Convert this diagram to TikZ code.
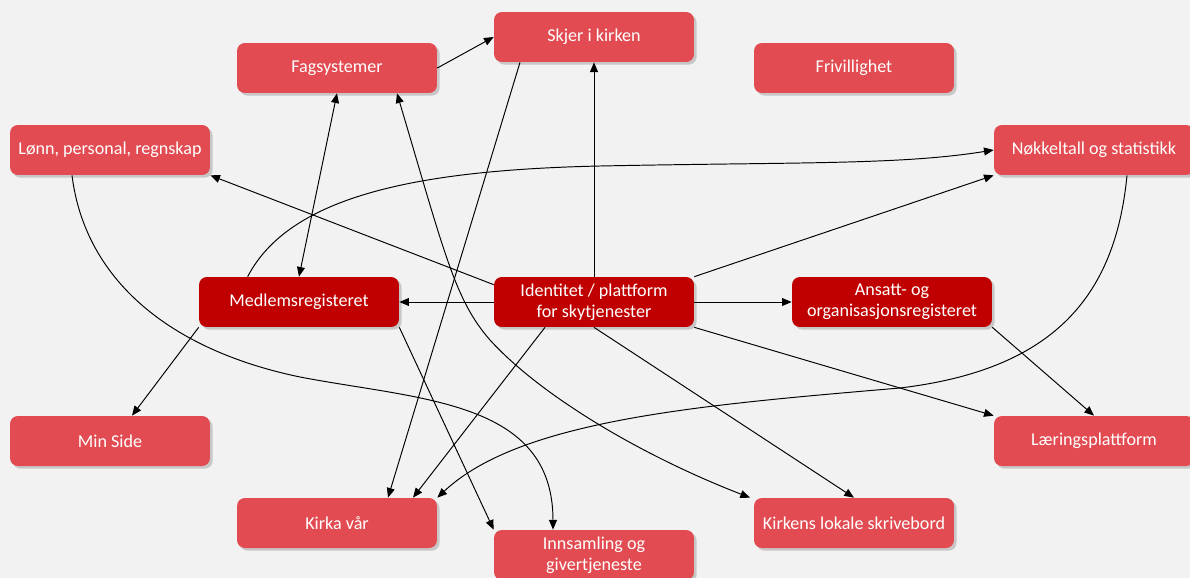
\documentclass[tikz,border=0pt]{standalone}
\usepackage{fontspec}
\setmainfont{Carlito}
\usetikzlibrary{arrows.meta,calc,shadows}

\definecolor{boxred}{HTML}{E24B51}
\definecolor{darkred}{HTML}{C00000}
\definecolor{bggray}{HTML}{F2F2F2}

\tikzset{
	box/.style={fill=boxred, rounded corners=4.5pt, minimum width=4cm, minimum height=1cm,
		inner sep=2pt, text=white, align=center, font=\fontsize{10.3}{12}\selectfont,
		drop shadow={shadow xshift=1.5pt, shadow yshift=-1.5pt, opacity=0.3, fill=black!60}},
	core/.style={box, fill=darkred},
	arr/.style={-{Triangle[length=5.5pt,width=4.5pt]}, line width=0.55pt},
	arrboth/.style={{Triangle[length=5.5pt,width=4.5pt]}-{Triangle[length=5.5pt,width=4.5pt]}, line width=0.55pt}
}

\begin{document}
\begin{tikzpicture}[x=0.02cm, y=-0.02cm]

\fill[bggray] (0,0) rectangle (1190,578);
\useasboundingbox (0,0) rectangle (1190,578);

\node[box] (fag) at (337,68) {Fagsystemer};
\node[box] (skjer) at (594,37) {Skjer i kirken};
\node[box] (friv) at (854,68) {Frivillighet};
\node[box] (lonn) at (110,150) {Lønn, personal, regnskap};
\node[box] (nokkel) at (1094,150) {Nøkkeltall og statistikk};
\node[core] (medlem) at (299,302) {Medlemsregisteret};
\node[core] (ident) at (594,302) {Identitet / plattform\\for skytjenester};
\node[core] (ansatt) at (892,302) {Ansatt- og\\organisasjonsregisteret};
\node[box] (minside) at (110,441) {Min Side};
\node[box] (laering) at (1094,441) {Læringsplattform};
\node[box] (kirka) at (337,523) {Kirka vår};
\node[box] (innsam) at (594,555) {Innsamling og\\givertjeneste};
\node[box] (skrive) at (854,523) {Kirkens lokale skrivebord};

\coordinate (fag_) at ($(fag.south)+(60,0)$);
\coordinate (skjer_) at ($(skjer.south)+(-74,0)$);
\coordinate (ident_l) at ($(ident.north west)+(0,8)$);
\coordinate (ident_s) at ($(ident.south)+(-49,0)$);
\coordinate (medlem_) at ($(medlem.north west)+(49,0)$);
\coordinate (lonn_) at ($(lonn.south)+(-38,0)$);
\coordinate (nokkel_) at ($(nokkel.south)+(33,0)$);
\coordinate (min_) at ($(minside.north)+(22,0)$);
\coordinate (kirka_a) at ($(kirka.north)+(51,0)$);
\coordinate (kirka_b) at ($(kirka.north)+(76,0)$);
\coordinate (innsam_) at ($(innsam.north)+(-41,0)$);
\coordinate (skrive_) at ($(skrive.north)+(-104,0)$);

\foreach \from/\to in {fag.east/skjer.west, ident.north/skjer.south, ident.west/medlem.east,
	ident.east/ansatt.west, ident.north east/nokkel.south west, ident.south/skrive.north,
	ident.south east/laering.north west, ansatt.south east/laering.north, medlem.south west/min_,
	medlem.south east/innsam.north west, ident_l/lonn.south east, skjer_/kirka_a, ident_s/kirka_b}
	\draw[arr] (\from) -- (\to);

\draw[arrboth] (fag.south) -- (medlem.north);

% curved ones
\draw[arrboth] (fag_) .. controls (445,255) and (455,300) .. (490,340)
	.. controls (540,395) and (640,455) .. (skrive_);
\draw[arr] (medlem_) .. controls (290,195) and (420,170) .. (600,166)
	.. controls (800,162) and (900,165) .. (nokkel.west);
\draw[arr] (lonn_) .. controls (85,280) and (170,350) .. (300,377)
	.. controls (420,400) and (553,400) .. (innsam_);
\draw[arr] (nokkel_) .. controls (1115,300) and (1050,370) .. (900,388)
	.. controls (700,405) and (520,420) .. (kirka.north east);

\end{tikzpicture}
\end{document}
